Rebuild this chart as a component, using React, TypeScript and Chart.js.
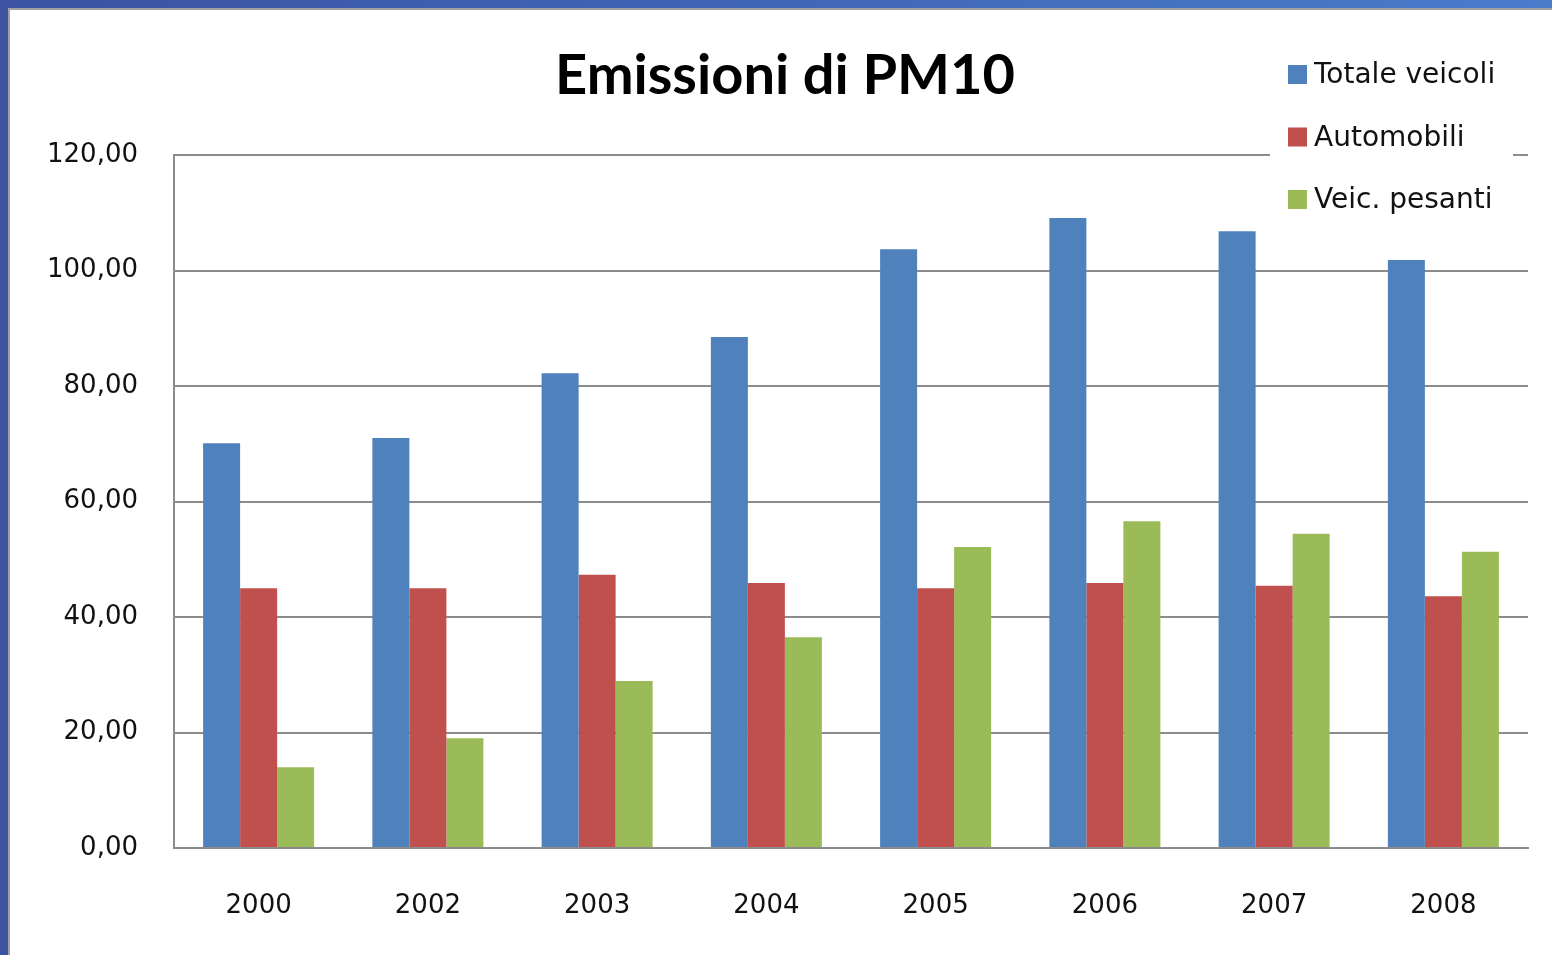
import React, { useEffect, useRef } from "react";
import { Chart, registerables } from "chart.js";

Chart.register(...registerables);

const TITLE = "Emissioni di PM10";
const categories = ["2000", "2002", "2003", "2004", "2005", "2006", "2007", "2008"];
const totaleVeicoli = [70.1, 71.0, 82.2, 88.5, 103.7, 109.1, 106.8, 101.8];
const automobili = [45.0, 45.0, 47.3, 45.9, 45.0, 45.9, 45.4, 43.6];
const veicPesanti = [14.0, 19.0, 28.9, 36.5, 52.1, 56.6, 54.4, 51.3];
const seriesNames = ["Totale veicoli", "Automobili", "Veic. pesanti"];
const seriesColors = ["#4f81bd", "#c0504d", "#9bbb59"];

const W = 1552;
const H = 955;

const framePlugin = {
  id: "frame",
  beforeDraw(chart: any) {
    const ctx = chart.ctx;
    ctx.save();
    ctx.fillStyle = "#ffffff";
    ctx.fillRect(0, 0, W, H);
    const g = ctx.createLinearGradient(0, 0, W, 0);
    g.addColorStop(0, "#3b53a0");
    g.addColorStop(0.5, "#4066b8");
    g.addColorStop(1, "#4a7ccc");
    ctx.fillStyle = g;
    ctx.fillRect(0, 0, W, 8);
    ctx.fillStyle = "#3b53a0";
    ctx.fillRect(0, 0, 8, H);
    ctx.fillStyle = "#a0a0a0";
    ctx.fillRect(8, 8, W - 8, 2);
    ctx.fillRect(8, 8, 2, H - 8);
    ctx.restore();
  },
};

const titleLegendPlugin = {
  id: "titleLegend",
  afterDraw(chart: any) {
    const ctx = chart.ctx;
    ctx.save();
    ctx.fillStyle = "#000000";
    ctx.font = "bold 56px Lato";
    ctx.textAlign = "center";
    ctx.textBaseline = "middle";
    ctx.fillText(TITLE, 785, 76);
    ctx.fillStyle = "#ffffff";
    ctx.fillRect(1270, 45, 243, 180);
    ctx.font = "28px 'DejaVu Sans'";
    ctx.textAlign = "left";
    chart.data.datasets.forEach((ds: any, i: number) => {
      const cy = 75 + i * 62.5;
      ctx.fillStyle = ds.backgroundColor;
      ctx.fillRect(1288, cy - 10, 19, 19);
      ctx.fillStyle = "#111111";
      ctx.fillText(ds.label, 1314, cy + 1);
    });
    ctx.restore();
  },
};

export default function App() {
  const ref = useRef<HTMLCanvasElement | null>(null);
  useEffect(() => {
    if (!ref.current) return;
    const series = [totaleVeicoli, automobili, veicPesanti];
    const chart = new Chart(ref.current, {
      type: "bar",
      data: {
        labels: categories,
        datasets: series.map((d, i) => ({
          label: seriesNames[i],
          data: d,
          backgroundColor: seriesColors[i],
          borderWidth: 0,
          barPercentage: 1,
          categoryPercentage: 0.656,
        })),
      },
      options: {
        animation: false,
        responsive: false,
        layout: { padding: { left: 0, right: 24, top: 155, bottom: 0 } },
        plugins: {
          legend: { display: false },
          title: { display: false },
          tooltip: { enabled: false },
        },
        scales: {
          x: {
            grid: { display: false },
            border: { display: true, color: "#8c8c8c", width: 2 },
            ticks: {
              color: "#111111",
              font: { family: "'DejaVu Sans'", size: 26 },
              padding: 35,
            },
            afterFit: (scale: any) => {
              scale.height = H - 848;
            },
          },
          y: {
            min: 0,
            max: 120,
            grid: { color: "#8c8c8c", lineWidth: 2, drawTicks: false },
            border: { display: true, color: "#8c8c8c", width: 2 },
            ticks: {
              stepSize: 20,
              color: "#111111",
              font: { family: "'DejaVu Sans'", size: 26 },
              padding: 36,
              callback: (v: any) => Number(v).toFixed(2).replace(".", ","),
            },
            afterFit: (scale: any) => {
              scale.width = 174;
            },
          },
        },
      },
      plugins: [framePlugin, titleLegendPlugin],
    });
    return () => chart.destroy();
  }, []);
  return (
    <div style={{ position: "absolute", left: 0, top: 0, width: W, height: H }}>
      <canvas ref={ref} width={W} height={H} style={{ display: "block" }} />
    </div>
  );
}
